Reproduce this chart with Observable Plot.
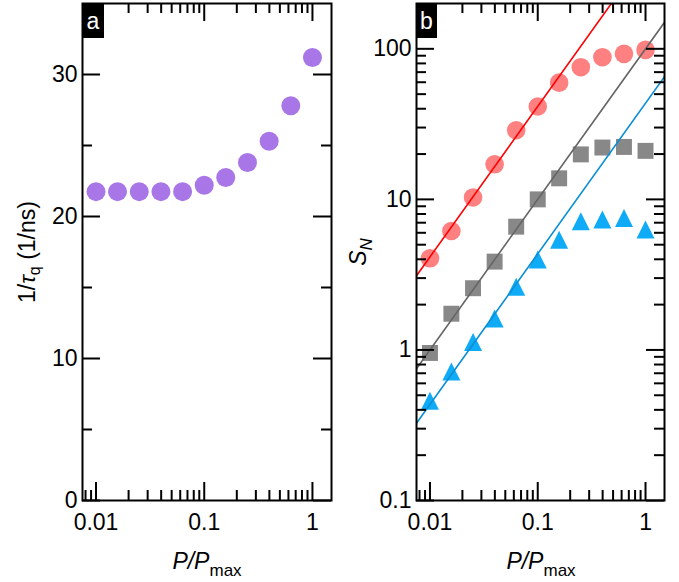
<!DOCTYPE html>
<html><head><meta charset="utf-8">
<script src="https://cdn.jsdelivr.net/npm/d3@7"></script>
<script src="https://cdn.jsdelivr.net/npm/@observablehq/plot@0.6"></script>
<style>
body{margin:0;background:#fff;}
#wrap{display:flex;width:679px;height:582px;overflow:hidden;}
svg{font-family:"Liberation Sans",Arial,sans-serif;}
</style></head><body><div id="wrap"></div>
<script>
// ---- data ----
const power = [0.01, 0.0158, 0.0251, 0.0398, 0.0631, 0.1, 0.158, 0.251, 0.398, 0.631, 1];
const rateQ = [21.75, 21.75, 21.75, 21.75, 21.75, 22.2, 22.75, 23.8, 25.3, 27.8, 31.2];
const snRed = [4.06, 6.17, 10.3, 17.1, 28.8, 41.4, 59.6, 75.5, 88, 92.6, 98.4];
const snGray = [0.955, 1.74, 2.57, 3.86, 6.59, 10.0, 13.8, 19.9, 22.1, 22.3, 21.0];
const snBlue = [0.46, 0.72, 1.13, 1.62, 2.63, 3.98, 5.4, 7.15, 7.35, 7.52, 6.3];
// linear fits (slope 1 on log-log), endpoints
const fitX = [0.0075, 1.5];
const fitRed = [3.11, 622];
const fitGray = [0.75, 150];
const fitBlue = [0.326, 65.3];
// ticks
const xMajor = [0.01, 0.1, 1];
const xMinor = [0.008, 0.009, 0.02, 0.03, 0.04, 0.05, 0.06, 0.07, 0.08, 0.09, 0.2, 0.3, 0.4, 0.5, 0.6, 0.7, 0.8, 0.9];
const yMajorA = [0, 10, 20, 30];
const yMinorA = [5, 15, 25];
const yMajorB = [0.1, 1, 10, 100];
const yMinorB = [0.2,0.3,0.4,0.5,0.6,0.7,0.8,0.9,2,3,4,5,6,7,8,9,20,30,40,50,60,70,80,90];

const H = 582, MT = 3, MB = 82;
const plotH = H - MT - MB;
const BIG = 18, SMALL = 10, SW = 2;
const FS = 23;

// isosceles triangle marker, about 18 px wide and tall
const triUp = {
  draw(context) {
    const h = 9;
    context.moveTo(0, -h);
    context.lineTo(h, h);
    context.lineTo(-h, h);
    context.closePath();
  }
};

function tickMarks(plotW, yMaj, yMin) {
  const mk = [];
  for (const [arr, L] of [[xMajor, BIG], [xMinor, SMALL]]) {
    mk.push(Plot.tickX(arr, {x: d => d, insetTop: plotH - L, strokeWidth: SW, stroke: "black"}));
    mk.push(Plot.tickX(arr, {x: d => d, insetBottom: plotH - L, strokeWidth: SW, stroke: "black"}));
  }
  for (const [arr, L] of [[yMaj, BIG], [yMin, SMALL]]) {
    mk.push(Plot.tickY(arr, {y: d => d, insetRight: plotW - L, strokeWidth: SW, stroke: "black"}));
    mk.push(Plot.tickY(arr, {y: d => d, insetLeft: plotW - L, strokeWidth: SW, stroke: "black"}));
  }
  return mk;
}

function labelAxes(yMaj) {
  return [
    Plot.axisX(xMajor, {tickSize: 0, tickPadding: 13, fontSize: FS, label: null, tickFormat: d => String(d)}),
    Plot.axisY(yMaj, {tickSize: 0, tickPadding: 5, fontSize: FS, label: null, tickFormat: d => String(d)})
  ];
}

const rowsA = power.map((p, i) => ({p, v: rateQ[i]}));
const rowsB = power.flatMap((p, i) => [
  {p, v: snRed[i], s: "red"}, {p, v: snGray[i], s: "gray"}, {p, v: snBlue[i], s: "blue"}
]);
const fits = [
  ...fitX.map((p, i) => ({p, v: fitRed[i], s: "red"})),
  ...fitX.map((p, i) => ({p, v: fitGray[i], s: "gray"})),
  ...fitX.map((p, i) => ({p, v: fitBlue[i], s: "blue"}))
];

// ---- panel a ----
const WA = 340, MLA = 82, MRA = 9;
const plotA = Plot.plot({
  width: WA, height: H, marginLeft: MLA, marginRight: MRA, marginTop: MT, marginBottom: MB,
  style: {fontFamily: "Liberation Sans, Arial, sans-serif", fontSize: FS + "px", color: "black", background: "white"},
  x: {type: "log", domain: [0.0075, 1.5], axis: null},
  y: {type: "linear", domain: [0, 35], axis: null},
  marks: [
    Plot.dot(rowsA, {x: "p", y: "v", r: 9.5, fill: "#a876e6", stroke: "none"}),
    ...tickMarks(WA - MLA - MRA, yMajorA, yMinorA),
    ...labelAxes(yMajorA),
    Plot.frame({stroke: "black", strokeWidth: SW})
  ]
});

// ---- panel b ----
const WB = 339, MLB = 76, MRB = 15;
const plotB = Plot.plot({
  width: WB, height: H, marginLeft: MLB, marginRight: MRB, marginTop: MT, marginBottom: MB,
  style: {fontFamily: "Liberation Sans, Arial, sans-serif", fontSize: FS + "px", color: "black", background: "white"},
  x: {type: "log", domain: [0.0075, 1.5], axis: null},
  y: {type: "log", domain: [0.1, 200], axis: null},
  marks: [
    Plot.dot(rowsB.filter(d => d.s === "red"), {x: "p", y: "v", r: 9.3, symbol: "circle", fill: "#ff8080"}),
    Plot.dot(rowsB.filter(d => d.s === "gray"), {x: "p", y: "v", r: 9, symbol: "square", fill: "#888888"}),
    Plot.dot(rowsB.filter(d => d.s === "blue"), {x: "p", y: "v", r: 7, symbol: triUp, fill: "#0fabf7"}),
    Plot.line(fits.filter(d => d.s === "red"), {x: "p", y: "v", stroke: "#ff0000", strokeWidth: 1.6, clip: true}),
    Plot.line(fits.filter(d => d.s === "gray"), {x: "p", y: "v", stroke: "#666666", strokeWidth: 1.6, clip: true}),
    Plot.line(fits.filter(d => d.s === "blue"), {x: "p", y: "v", stroke: "#0a8fd6", strokeWidth: 1.6, clip: true}),
    ...tickMarks(WB - MLB - MRB, yMajorB, yMinorB),
    ...labelAxes(yMajorB),
    Plot.frame({stroke: "black", strokeWidth: SW})
  ]
});

const wrap = document.getElementById("wrap");
wrap.appendChild(plotA);
wrap.appendChild(plotB);

// ---- titles & panel labels ----
function panelLabel(svgNode, x, w, letter) {
  const s = d3.select(svgNode);
  s.append("rect").attr("x", x).attr("y", MT).attr("width", w).attr("height", 35).attr("fill", "black");
  s.append("text").attr("x", x + w / 2).attr("y", 29).attr("text-anchor", "middle")
    .attr("fill", "white").style("font-size", FS + "px").text(letter);
}
function xTitle(svgNode, cx) {
  const t = d3.select(svgNode).append("text").attr("x", cx).attr("y", 569)
    .attr("text-anchor", "middle").style("font-size", FS + "px").attr("fill", "black");
  t.append("tspan").style("font-style", "italic").text("P/P");
  t.append("tspan").attr("dy", 7).style("font-size", "17px").text("max");
}
panelLabel(plotA, MLA, 22, "a");
panelLabel(plotB, MLB, 21, "b");
xTitle(plotA, 207);
xTitle(plotB, 201);

{
  const t = d3.select(plotA).append("text").attr("transform", "translate(35,252) rotate(-90)")
    .attr("text-anchor", "middle").style("font-size", FS + "px").attr("fill", "black");
  t.append("tspan").text("1/");
  t.append("tspan").style("font-style", "italic").text("τ");
  t.append("tspan").attr("dy", 5).style("font-size", "16px").text("q");
  t.append("tspan").attr("dy", -5).text(" (1/ns)");
}
{
  const t = d3.select(plotB).append("text").attr("transform", "translate(26,252) rotate(-90)")
    .attr("text-anchor", "middle").style("font-size", FS + "px").attr("fill", "black");
  t.append("tspan").style("font-style", "italic").text("S");
  t.append("tspan").attr("dy", 6).style("font-size", "17px").style("font-style", "italic").text("N");
}
</script></body></html>
